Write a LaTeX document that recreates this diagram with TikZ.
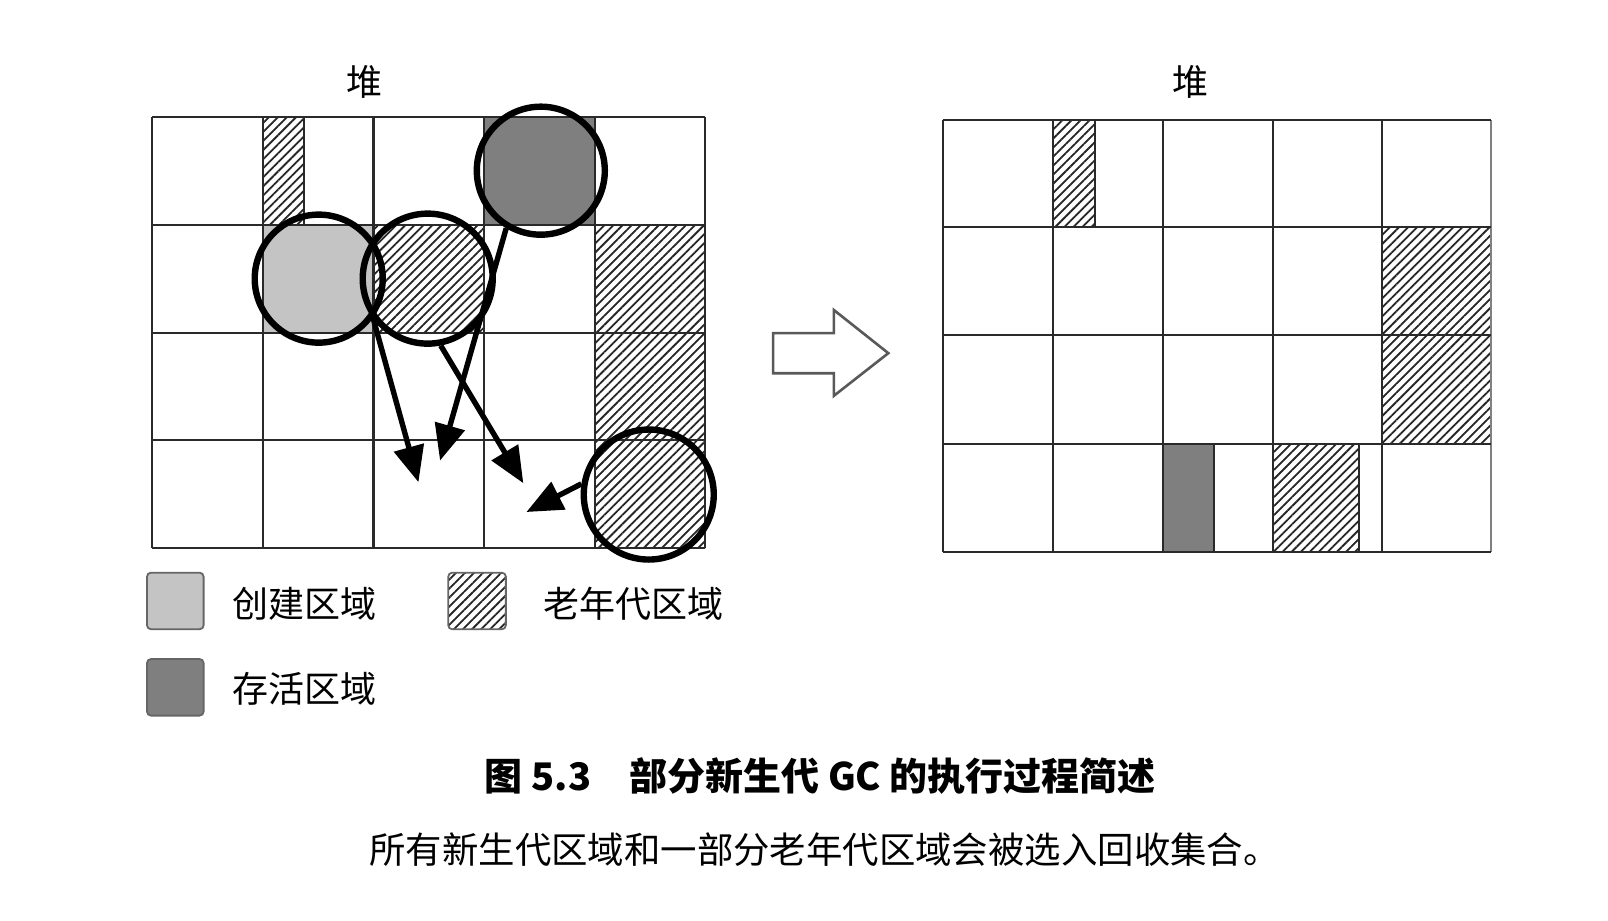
\documentclass[tikz,border=0pt]{standalone}
\usepackage{fontspec}
\setmainfont{Noto Sans CJK SC}
\usetikzlibrary{arrows.meta,patterns.meta}
\definecolor{lightfill}{HTML}{C4C4C4}
\definecolor{darkfill}{HTML}{7F7F7F}
\definecolor{gridcol}{HTML}{2A2A2A}
\tikzset{
  hatch/.style={pattern={Lines[angle=45,distance=3.2pt,line width=0.9pt]},pattern color=black!85},
  gridline/.style={draw=gridcol,line width=1.1pt},
  ring/.style={circle,draw=black,line width=3.2pt,inner sep=0pt,minimum size=#1},
  movearrow/.style={draw=black,line width=2.7pt,-{Triangle[length=18pt,width=15pt]}},
  legbox/.style={draw=gray!80!black,line width=0.9pt,rounded corners=2pt},
  legtext/.style={anchor=west,font=\fontsize{18pt}{20pt}\selectfont,inner sep=0pt},
  heaptext/.style={font=\fontsize{18pt}{20pt}\selectfont,inner sep=0pt},
}
\begin{document}
\begin{tikzpicture}[x=0.514pt,y=-0.514pt]
\useasboundingbox (0,0) rectangle (1564,895);
\fill[white] (0,0) rectangle (1564,895);
% ---------- left heap ----------
\node[heaptext] (h1) at (355,80) {堆};
% fills
\fill[hatch] (255.6,114) rectangle (296,218.75);
\fill[darkfill] (470.8,114) rectangle (578.4,218.75);
\fill[lightfill] (255.6,218.75) rectangle (363.2,323.5);
\fill[hatch] (363.2,218.75) rectangle (470.8,323.5);
\fill[hatch] (578.4,218.75) rectangle (686,533);
% grid
\foreach \x in {148,255.6,363.2,470.8,578.4,686} \draw[gridline] (\x,114) -- (\x,533);
\foreach \y in {114,218.75,323.5,428.25,533} \draw[gridline] (148,\y) -- (686,\y);
\draw[gridline] (296,114) -- (296,218.75);
% circles
\node[ring=64pt] (cd) at (526,166) {};
\node[ring=64pt] (cl) at (310,271) {};
\node[ring=65pt] (ch) at (416,271) {};
\node[ring=65pt] (cr) at (631,481) {};
% arrows
\coordinate (t1) at (407,469);
\coordinate (t2) at (428,448);
\coordinate (t3) at (509,470);
\coordinate (t4) at (512,498);
\draw[movearrow] (cl.-36) -- (t1);
\draw[movearrow] (cd.-121) -- (t2);
\draw[movearrow] (ch.-79) -- (t3);
\draw[movearrow] (cr.171) -- (t4);
% ---------- big hollow arrow ----------
\draw[draw=gray!70!black,line width=1.3pt,line join=miter,fill=white]
  (752,324) -- (811,324) -- (811,301.5) -- (864,343.5) -- (811,385) -- (811,363) -- (752,363) -- cycle;
% ---------- right heap ----------
\node[heaptext] (h2) at (1158,80) {堆};
\fill[hatch] (1024,117) rectangle (1065,221);
\fill[hatch] (1344,221) rectangle (1450,432);
\fill[darkfill] (1131,432) rectangle (1181,537);
\fill[hatch] (1238,432) rectangle (1322,537);
\foreach \x in {917,1024,1131,1238,1344} \draw[gridline] (\x,117) -- (\x,537);
\draw[gridline,draw=gray] (1450,117) -- (1450,537);
\foreach \y in {117,221,326,432,537} \draw[gridline] (917,\y) -- (1450,\y);
\draw[gridline] (1065,117) -- (1065,221);
\draw[gridline] (1181,432) -- (1181,537);
\draw[gridline] (1322,432) -- (1322,537);
% ---------- legend ----------
\node[legbox,fill=lightfill,minimum width=28.3pt,minimum height=28.3pt,inner sep=0pt] (lg1) at (170.5,584.5) {};
\node[legtext] (lt1) at (226,587) {创建区域};
\node[legbox,hatch,minimum width=28.8pt,minimum height=28.3pt,inner sep=0pt] (lg2) at (464,584.5) {};
\node[legtext] (lt2) at (528,587) {老年代区域};
\node[legbox,fill=darkfill,minimum width=28.3pt,minimum height=28.3pt,inner sep=0pt] (lg3) at (170.5,668.5) {};
\node[legtext] (lt3) at (226,670) {存活区域};
% ---------- captions ----------
\node[inner sep=0pt,font=\bfseries\fontsize{19pt}{21pt}\selectfont] (title) at (798,755) {图 5.3\quad 部分新生代 GC 的执行过程简述};
\node[inner sep=0pt,font=\fontsize{18.2pt}{20pt}\selectfont] (sub) at (802,826) {所有新生代区域和一部分老年代区域会被选入回收集合。};
\end{tikzpicture}
\end{document}
